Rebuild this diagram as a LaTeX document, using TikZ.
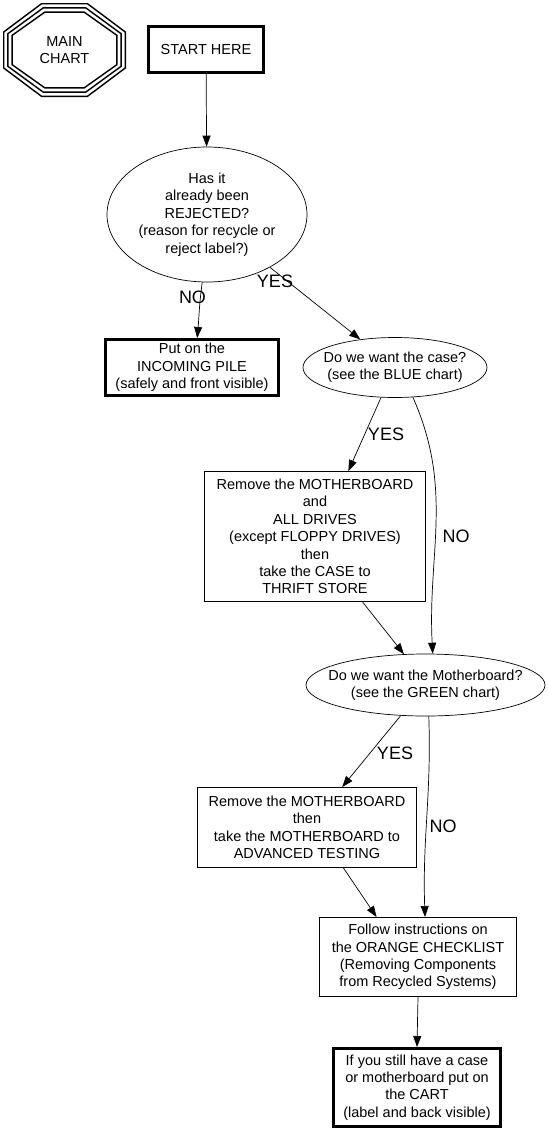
\documentclass[tikz,border=0pt]{standalone}
\usepackage{fontspec}
\setmainfont{Liberation Sans}
\usetikzlibrary{shapes.geometric,arrows.meta}

\begin{document}
\begin{tikzpicture}[x=1pt,y=1pt,
    txt/.style={font=\fontsize{14.5}{17.4}\selectfont, align=center, inner sep=0pt},
    box/.style={txt, draw, rectangle, line width=0.8pt},
    thickbox/.style={box, line width=2.6pt},
    oval/.style={txt, draw, ellipse, line width=0.7pt, inner xsep=-30pt, inner ysep=-10pt},
    lbl/.style={font=\fontsize{18}{20}\selectfont, inner sep=0pt},
    edge/.style={-{Triangle[length=11pt,width=8pt]}, line width=0.7pt}]

    % Fix the page size
    \useasboundingbox (0,0) rectangle (548,-1133);

    % Place the main chart text
    \node[txt] (main) at (64.5,-50) {MAIN\\CHART};
    \begin{scope}[shift={(main.center)}]
        % Draw the three octagons
        \foreach \d in {0,4.2,8.4}
            \draw[line width=1.4pt] (-23+.4*\d,46.3-\d) -- (23-.4*\d,46.3-\d)
                -- (60.8-\d,18-.4*\d) -- (60.8-\d,-18+.4*\d)
                -- (23-.4*\d,-46.3+\d) -- (-23+.4*\d,-46.3+\d)
                -- (-60.8+\d,-18+.4*\d) -- (-60.8+\d,18-.4*\d) -- cycle;
    \end{scope}

    % Place the boxes and questions
    \node[thickbox, minimum width=115.4pt, minimum height=46.4pt] (start) at (206,-49.5) {START HERE};
    \node[oval, minimum width=200pt, minimum height=135pt] (q1) at (207,-214.5)
        {Has it\\already been\\REJECTED?\\(reason for recycle or\\reject label?)};
    \node[thickbox, minimum width=173.4pt, minimum height=56.4pt] (pile) at (192,-367.5)
        {Put on the\\INCOMING PILE\\(safely and front visible)};
    \node[oval, minimum width=184pt, minimum height=60pt] (q2) at (395,-367.5)
        {Do we want the case?\\(see the BLUE chart)};
    \node[box, minimum width=221.2pt, minimum height=130.2pt] (remove1) at (315,-536.5)
        {Remove the MOTHERBOARD\\and\\ALL DRIVES\\(except FLOPPY DRIVES)\\then\\take the CASE to\\THRIFT STORE};
    \node[oval, minimum width=239pt, minimum height=62pt] (q3) at (425.5,-685)
        {Do we want the Motherboard?\\(see the GREEN chart)};
    \node[box, minimum width=219.2pt, minimum height=80.2pt] (remove2) at (307,-827.5)
        {Remove the MOTHERBOARD\\then\\take the MOTHERBOARD to\\ADVANCED TESTING};
    \node[box, minimum width=197.2pt, minimum height=79.2pt] (follow) at (418,-957)
        {Follow instructions on\\the ORANGE CHECKLIST\\(Removing Components\\from Recycled Systems)};
    \node[thickbox, minimum width=167.4pt, minimum height=78.4pt] (cart) at (417,-1087.5)
        {If you still have a case\\or motherboard put on\\the CART\\(label and back visible)};

    % Draw the arrows
    \draw[edge] (start) -- (q1);
    \draw[edge] (q1.-94) to[out=-98,in=85] (pile.80);
    \draw[edge] (q1.-40) -- (q2.141.5);
    \draw[edge] (q2.-115) -- (remove1.63);
    \draw[edge] (q2.-59) to[out=-66,in=93] (q3.77);
    \draw[edge] (remove1.-54) -- (q3.125);
    \draw[edge] (q3.-129) -- (remove2.49);
    \draw[edge] (q3.-84) to[out=-88,in=92] (follow.80);
    \draw[edge] (remove2.-48) -- (follow.136);
    \draw[edge] (follow.south) -- (cart.north);

    % Add the YES and NO labels
    \node[lbl] (no1) at (192.5,-297) {NO};
    \node[lbl] (yes1) at (275,-281.5) {YES};
    \node[lbl] (yes2) at (386,-434) {YES};
    \node[lbl] (no2) at (456,-536.5) {NO};
    \node[lbl] (yes3) at (395,-753.5) {YES};
    \node[lbl] (no3) at (443,-826.5) {NO};
\end{tikzpicture}
\end{document}
